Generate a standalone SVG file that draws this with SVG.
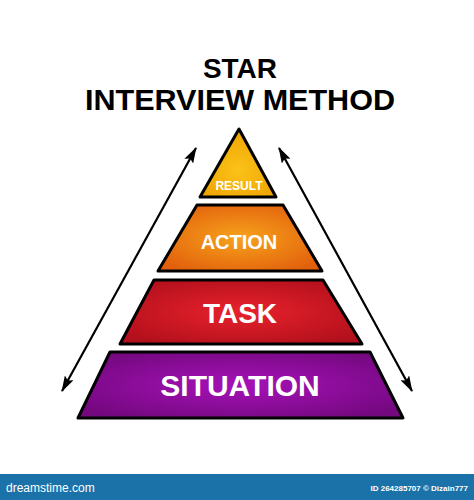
<svg xmlns="http://www.w3.org/2000/svg" width="474" height="500" viewBox="0 0 474 500">
<defs>
<radialGradient id="gR" cx="0.5" cy="0.6" r="0.6"><stop offset="0" stop-color="#fbc21a"/><stop offset="1" stop-color="#eea300"/></radialGradient>
<radialGradient id="gA" cx="0.5" cy="0.5" r="0.6"><stop offset="0" stop-color="#f7a21c"/><stop offset="1" stop-color="#e2600c"/></radialGradient>
<radialGradient id="gT" cx="0.5" cy="0.5" r="0.6"><stop offset="0" stop-color="#e8222c"/><stop offset="1" stop-color="#b2101c"/></radialGradient>
<radialGradient id="gS" cx="0.5" cy="0.5" r="0.6"><stop offset="0" stop-color="#a612b8"/><stop offset="1" stop-color="#74087f"/></radialGradient>
<marker id="ah" viewBox="0 0 16 10" refX="15" refY="5" markerWidth="16" markerHeight="10" orient="auto-start-reverse" markerUnits="userSpaceOnUse"><path d="M0,0 L16,5 L0,10 L3,5 Z" fill="#000"/></marker>
</defs>
<style>
.lvl{stroke:#000;stroke-width:3;stroke-linejoin:round}
.lbl{font-family:"Liberation Sans",Arial,sans-serif;font-weight:bold;fill:#fff;text-anchor:middle}
.title{font-family:"Liberation Sans",Arial,sans-serif;font-weight:bold;fill:#000;text-anchor:middle}
.arr{stroke:#000;stroke-width:2.2;fill:none}
</style>
<rect width="474" height="500" fill="#fff"/>
<g id="title">
<text class="title" x="240" y="78" font-size="28">STAR</text>
<text class="title" x="240" y="110" font-size="30" textLength="310" lengthAdjust="spacingAndGlyphs">INTERVIEW METHOD</text>
</g>
<g id="connectors">
<line class="arr" x1="196" y1="148" x2="62" y2="391" marker-start="url(#ah)" marker-end="url(#ah)"/>
<line class="arr" x1="279" y1="148" x2="412" y2="391" marker-start="url(#ah)" marker-end="url(#ah)"/>
</g>
<g id="result">
<path class="lvl" d="M239,129 L276,197 L200,197 Z" fill="url(#gR)"/>
<text class="lbl" x="239" y="190" font-size="12">RESULT</text>
</g>
<g id="action">
<path class="lvl" d="M197,205 L283,205 L322,271 L158,271 Z" fill="url(#gA)"/>
<text class="lbl" x="239" y="249" font-size="20">ACTION</text>
</g>
<g id="task">
<path class="lvl" d="M154,280 L323,280 L362,344 L120,344 Z" fill="url(#gT)"/>
<text class="lbl" x="240" y="323" font-size="28">TASK</text>
</g>
<g id="situation">
<path class="lvl" d="M110,352 L370,352 L403,418 L78,418 Z" fill="url(#gS)"/>
<text class="lbl" x="240" y="396" font-size="30">SITUATION</text>
</g>
<g id="footer">
<rect x="0" y="474" width="474" height="26" fill="#1b72a8"/>
<text x="6" y="492" font-family="'Liberation Sans',Arial,sans-serif" font-size="12" fill="#fff">dreamstime.com</text>
<text x="468" y="491" font-family="'Liberation Sans',Arial,sans-serif" font-size="8" font-weight="bold" fill="#fff" text-anchor="end">ID 264285707 © Dizain777</text>
</g>
</svg>
